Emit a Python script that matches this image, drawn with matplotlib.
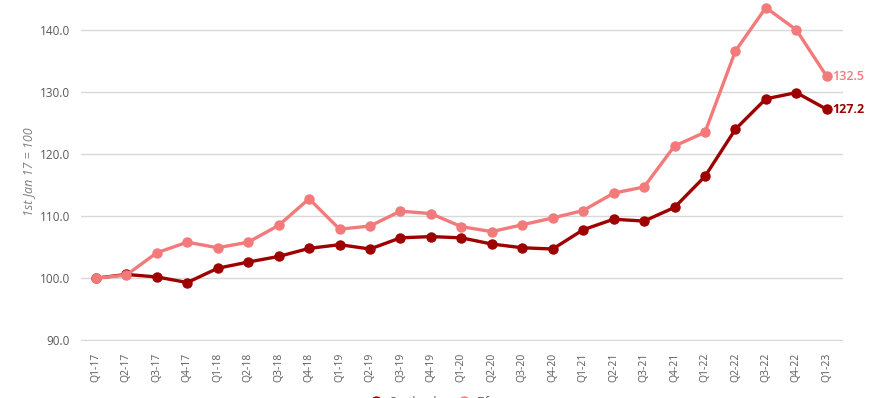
import matplotlib
matplotlib.use("Agg")
from matplotlib import pyplot as plt
import numpy as np

plt.rcParams["font.family"] = ["Open Sans", "DejaVu Sans"]

# quarters Q1-17 .. Q1-23
quarters = ["Q1-17", "Q2-17", "Q3-17", "Q4-17",
            "Q1-18", "Q2-18", "Q3-18", "Q4-18",
            "Q1-19", "Q2-19", "Q3-19", "Q4-19",
            "Q1-20", "Q2-20", "Q3-20", "Q4-20",
            "Q1-21", "Q2-21", "Q3-21", "Q4-21",
            "Q1-22", "Q2-22", "Q3-22", "Q4-22",
            "Q1-23"]

# index values, 1st Jan 17 = 100
dark_vals = [100.0, 100.6, 100.2, 99.3, 101.6, 102.6, 103.5, 104.8,
             105.4, 104.7, 106.5, 106.7, 106.5, 105.5, 104.9, 104.7,
             107.8, 109.5, 109.2, 111.4, 116.4, 124.0, 128.9, 129.9,
             127.2]
light_vals = [100.0, 100.5, 104.1, 105.8, 104.9, 105.8, 108.5, 112.8,
              107.9, 108.4, 110.8, 110.4, 108.3, 107.5, 108.6, 109.7,
              110.9, 113.7, 114.7, 121.3, 123.5, 136.6, 143.6, 140.0,
              132.5]
series_names = ["Scotland", "Fife"]

dark_col = "#9e0000"
light_col = "#f27a7a"
grey = "#595959"

fig = plt.figure(figsize=(8.69, 3.98), dpi=100)
ax = fig.add_axes([0.0932, 0.1420, 0.8768, 0.8530])

x = np.arange(len(quarters))
l1, = ax.plot(x, dark_vals, color=dark_col, lw=2.4, marker="o", ms=6.5,
              label=series_names[0], clip_on=False, zorder=3)
l2, = ax.plot(x, light_vals, color=light_col, lw=2.4, marker="o", ms=6.5,
              label=series_names[1], clip_on=False, zorder=3)

# end labels
ax.annotate(f"{light_vals[-1]:.1f}", (x[-1], light_vals[-1]), xytext=(4, 0),
            textcoords="offset points", va="center", ha="left",
            color=light_col, fontsize=9, fontweight="semibold", annotation_clip=False)
ax.annotate(f"{dark_vals[-1]:.1f}", (x[-1], dark_vals[-1]), xytext=(4, 0),
            textcoords="offset points", va="center", ha="left",
            color=dark_col, fontsize=9, fontweight="bold", annotation_clip=False)

ax.set_ylim(89.8, 144.5)
ax.set_xlim(-0.49, 24.53)
ax.set_yticks([90, 100, 110, 120, 130, 140])
ax.set_yticklabels([f"{v:.1f}" for v in [90, 100, 110, 120, 130, 140]],
                   color=grey, fontsize=8.5)
ax.set_xticks(x)
ax.set_xticklabels(quarters, rotation=90, color=grey, fontsize=7.5)
ax.tick_params(length=0, pad=8)
ax.grid(axis="y", color="#d9d9d9", lw=1)
ax.set_axisbelow(True)
for s in ax.spines.values():
    s.set_visible(False)

ax.set_ylabel("1st Jan 17 = 100", color="#7f7f7f", fontsize=9,
              style="italic", labelpad=3)

fig.legend(handles=[l1, l2], loc="center", bbox_to_anchor=(0.5, -0.012),
           ncol=2, frameon=False, fontsize=8.5, labelcolor=grey,
           handlelength=0.6, columnspacing=2, markerscale=1.2)

fig.savefig("out.png", dpi=100)
